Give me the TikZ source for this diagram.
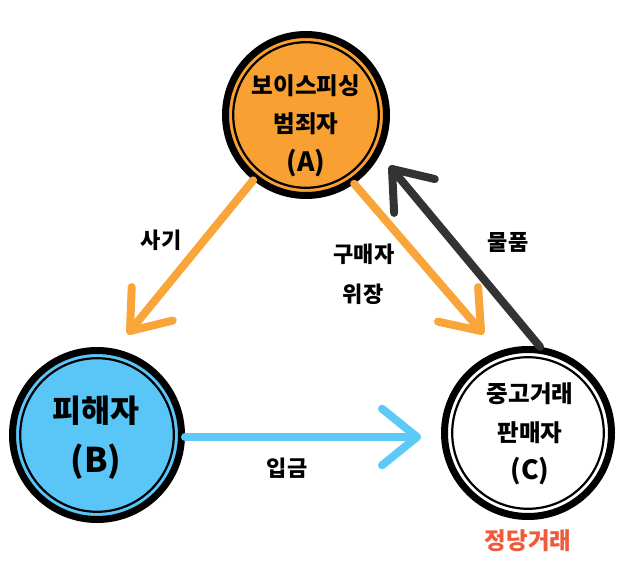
\documentclass[tikz,border=0pt]{standalone}
\usepackage{fontspec}
\newfontfamily\kr{Noto Sans CJK KR}
\usetikzlibrary{calc}
\definecolor{aorange}{HTML}{F8A031}
\definecolor{arrorange}{HTML}{F9A53A}
\definecolor{bblue}{HTML}{5AC6F8}
\definecolor{arrblue}{HTML}{5CC9F7}
\definecolor{darkarr}{HTML}{333333}
\definecolor{redtxt}{HTML}{EE5A3A}
\begin{document}
\begin{tikzpicture}[x=1pt,y=-1pt,
  party/.style={circle,draw=black,line width=7pt,inner sep=0pt},
  inring/.style={draw=black,line width=2.2pt},
  conn/.style={line width=8pt,line cap=round,line join=round},
  lbl/.style={font=\kr\bfseries\fontsize{22}{22}\selectfont,inner sep=0pt},
  ctext/.style={font=\kr\bfseries\fontsize{23.5}{23.5}\selectfont,inner sep=0pt},
  ptext/.style={font=\kr\bfseries\fontsize{26.5}{26.5}\selectfont,inner sep=0pt},
  btext/.style={font=\kr\bfseries\fontsize{31.5}{31.5}\selectfont,inner sep=0pt},
  bptext/.style={font=\kr\bfseries\fontsize{34}{34}\selectfont,inner sep=0pt}]
\useasboundingbox (0,0) rectangle (629,588);
\fill[white] (0,0) rectangle (629,588);

% circles
\node[party,fill=aorange,minimum size=161pt] (A) at (306,115) {};
\node[party,fill=bblue,minimum size=169pt] (B) at (97,435) {};
\node[party,fill=white,minimum size=167pt] (C) at (528,433) {};
\draw[inring] (A.center) circle[radius=72.8pt];
\draw[inring] (B.center) circle[radius=76.8pt];
\draw[inring] (C.center) circle[radius=75.8pt];

% arrow tips
\coordinate (tAB) at (130,331);
\coordinate (tAC) at (481,331);
\coordinate (tCA) at (392,169);
\coordinate (tBC) at (417,437);

% A -> B
\draw[conn,draw=arrorange] (A.231) -- (tAB);
\draw[conn,draw=arrorange] ($(tAB)!44pt!37:(A.231)$) -- (tAB) -- ($(tAB)!44pt!-37:(A.231)$);
% A -> C
\draw[conn,draw=arrorange] (A.305) -- (tAC);
\draw[conn,draw=arrorange] ($(tAC)!44pt!37:(A.305)$) -- (tAC) -- ($(tAC)!44pt!-37:(A.305)$);
% C -> A
\draw[conn,draw=darkarr] (C.82) -- (tCA);
\draw[conn,draw=darkarr] ($(tCA)!44pt!37:(C.82)$) -- (tCA) -- ($(tCA)!44pt!-37:(C.82)$);
% B -> C
\draw[conn,draw=arrblue] (B.east) ++(0,2) coordinate (sBC) -- (tBC);
\draw[conn,draw=arrblue] ($(tBC)!45pt!39:(sBC)$) -- (tBC) -- ($(tBC)!45pt!-39:(sBC)$);

% texts in circles
\node[ctext] (a1) at (306,86) {보이스피싱};
\node[ctext] (a2) at (306,124) {범죄자};
\node[ptext] (a3) at (306,163) {(A)};
\node[btext] (b1) at (96,411) {피해자};
\node[bptext] (b2) at (96,462) {(B)};
\node[ctext] (c1) at (530,394) {중고거래};
\node[ctext] (c2) at (530,433) {판매자};
\node[ptext] (c3) at (530,471) {(C)};

% connector labels
\node[lbl] (l1) at (161,240) {사기};
\node[lbl] (l2) at (364,254) {구매자};
\node[lbl] (l3) at (363,294) {위장};
\node[lbl] (l4) at (508,242) {물품};
\node[lbl] (l5) at (287,468) {입금};
\node[ctext,text=redtxt] (l6) at (528,541) {정당거래};
\end{tikzpicture}
\end{document}
